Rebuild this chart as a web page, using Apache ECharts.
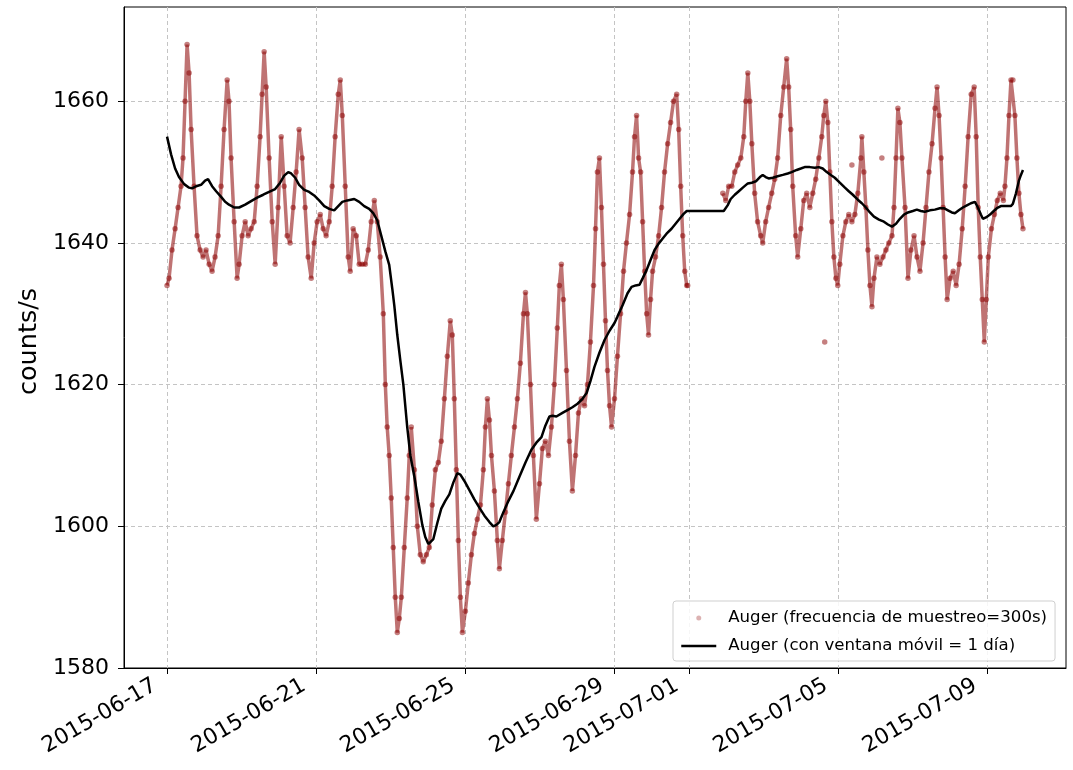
<!DOCTYPE html>
<html>
<head>
<meta charset="utf-8">
<script src="https://cdn.jsdelivr.net/npm/echarts@6/dist/echarts.min.js"></script>
<style>html,body{margin:0;padding:0;background:#fff}#c{width:1073px;height:770px}</style>
</head>
<body>
<div id="c"></div>
<script>
// Hours since 2015-06-17 00:00 (UTC) and counts/s values
const scatterHours = [0,1.3,3.2,5.2,7.1,9.0,10.3,11.6,12.9,14.2,15.5,17.4,19.3,21.3,23.2,25.1,27.1,29.0,30.9,32.9,34.8,36.7,38.7,39.9,41.2,43.2,45.1,46.4,48.3,50.3,52.2,54.1,56.1,58.0,59.9,61.2,62.5,63.8,65.7,67.7,69.6,71.5,73.5,75.4,77.3,79.2,81.2,83.1,85.0,87.0,88.9,90.8,92.8,94.7,96.6,98.6,100.5,102.4,104.4,106.3,108.2,110.2,111.5,112.8,114.7,116.6,117.9,119.8,121.8,123.7,125.6,127.6,129.5,131.4,133.4,135.3,137.2,139.2,140.5,141.7,143.0,144.3,145.6,146.9,148.2,149.5,150.8,152.7,154.6,155.9,157.2,159.2,161.1,163.0,164.9,166.9,168.8,170.7,172.7,174.6,176.5,178.5,180.4,182.3,183.6,184.9,186.2,187.5,188.8,190.1,192.0,193.9,195.9,197.8,199.7,201.7,203.6,204.9,206.2,207.5,208.8,210.7,212.6,213.9,215.8,217.8,219.7,221.6,223.6,225.5,227.4,229.4,230.7,231.9,233.9,235.8,237.7,239.7,241.6,243.5,245.5,247.4,249.3,251.2,252.5,253.8,255.1,257.1,259.0,260.9,262.9,264.8,266.7,268.7,270.6,272.5,274.5,275.8,277.0,278.3,279.6,280.9,282.2,283.5,284.8,286.1,288.0,289.9,291.9,293.8,295.7,297.7,299.6,300.9,302.2,303.5,304.8,306.1,307.4,308.7,309.9,311.2,312.5,314.4,316.4,318.3,320.2,322.2,324.1,326.0,328.0,329.3,330.6,331.9,333.2,334.5,335.1,357.7,359.6,361.5,363.5,365.4,367.3,369.3,371.2,372.5,373.8,375.1,376.4,378.2,380.1,382.1,383.4,385.3,387.2,389.2,391.1,393.0,395.0,396.9,398.8,400.1,401.4,402.7,404.6,405.9,407.9,409.8,411.7,413.7,415.6,417.5,419.5,421.4,422.7,424.0,425.3,426.6,427.9,429.2,430.5,431.7,433.0,435.0,436.9,438.8,440.8,442.7,444.6,446.6,447.2,448.5,449.8,451.1,452.4,453.7,455.0,456.9,458.8,460.8,462.7,464.6,466.6,467.9,469.2,470.4,471.7,473.0,475.0,476.9,478.8,480.8,482.7,484.6,486.6,488.5,490.4,492.4,494.3,495.6,496.9,498.2,499.5,500.8,502.1,504.0,506.0,507.9,509.8,511.8,513.7,515.6,517.6,519.5,520.8,522.1,523.4,524.7,526.0,527.3,528.6,530.6,532.5,534.4,536.3,538.3,539.3,540.6,541.9,543.2,544.4,545.7,547.0,548.3,549.6,550.9];
const scatterValues = [1634,1635,1639,1642,1645,1648,1652,1660,1668,1664,1656,1648,1641,1639,1638,1639,1637,1636,1638,1641,1648,1656,1663,1660,1652,1643,1635,1637,1641,1643,1641,1642,1643,1648,1655,1661,1667,1662,1652,1643,1637,1645,1655,1648,1641,1640,1645,1650,1656,1652,1645,1638,1635,1640,1643,1644,1642,1641,1643,1648,1655,1661,1663,1658,1648,1638,1636,1642,1641,1637,1637,1637,1639,1643,1646,1643,1638,1630,1620,1614,1610,1604,1597,1590,1585,1587,1590,1597,1604,1610,1614,1608,1600,1596,1595,1596,1597,1603,1608,1609,1612,1618,1624,1629,1627,1618,1608,1598,1590,1585,1588,1592,1596,1599,1601,1603,1608,1614,1618,1615,1610,1605,1598,1594,1598,1602,1606,1610,1614,1618,1623,1630,1633,1630,1620,1610,1601,1606,1611,1612,1610,1614,1620,1628,1634,1637,1632,1622,1612,1605,1610,1616,1618,1617,1620,1626,1634,1642,1650,1652,1645,1637,1629,1622,1617,1614,1618,1624,1630,1636,1640,1644,1650,1655,1658,1652,1650,1643,1636,1630,1627,1632,1636,1638,1641,1645,1650,1654,1657,1660,1661,1656,1648,1641,1636,1634,1634,1647,1646,1648,1648,1650,1651,1652,1655,1660,1664,1660,1654,1647,1643,1641,1640,1643,1645,1647,1649,1652,1658,1662,1666,1662,1656,1648,1641,1638,1642,1646,1647,1645,1647,1649,1652,1655,1658,1660,1657,1650,1643,1638,1635,1634,1637,1641,1643,1644,1643,1644,1647,1652,1655,1650,1645,1639,1634,1631,1635,1638,1637,1638,1639,1640,1641,1645,1652,1659,1657,1652,1645,1635,1639,1641,1638,1636,1640,1645,1650,1654,1659,1662,1658,1652,1645,1638,1632,1635,1636,1634,1637,1642,1648,1655,1661,1662,1655,1645,1638,1632,1626,1632,1638,1642,1644,1646,1647,1646,1648,1652,1658,1663,1663,1658,1652,1647,1644,1642];
const outlierHours = [423.3, 440.8, 460.1];
const outlierValues = [1626, 1651, 1652];

const meanHours = [0,2.6,5.2,7.7,11.0,14.2,16.1,18.7,21.9,24.5,26.4,29.0,31.6,34.8,37.4,39.9,43.2,46.4,50.3,54.1,58.0,61.9,65.7,69.6,72.8,75.4,78.0,79.9,82.5,85.0,88.3,91.5,94.7,97.9,101.2,104.4,107.6,110.2,112.8,116.0,120.5,123.7,126.9,130.1,132.7,135.3,137.9,140.5,143.0,145.0,146.3,148.2,150.1,152.1,154.6,156.6,159.2,161.7,164.3,166.2,168.2,169.4,171.4,174.0,176.5,179.1,181.7,184.3,186.8,188.8,191.4,194.6,197.8,201.1,204.3,207.5,210.0,212.0,213.9,216.5,219.1,223.0,226.8,230.7,234.5,237.7,241.0,243.5,246.1,248.1,250.6,254.5,257.7,260.9,264.2,267.4,270.0,272.5,275.1,278.3,281.6,284.8,288.0,289.9,293.2,296.4,299.0,301.6,304.1,306.1,308.7,311.2,313.8,316.4,318.9,321.5,324.7,327.3,329.9,332.5,334.5,358.3,360.8,362.8,365.4,368.0,370.6,373.8,376.4,379.0,381.6,383.4,385.3,387.2,389.9,393.0,396.3,399.5,402.0,405.3,407.9,410.4,413.7,416.9,419.5,422.0,424.6,427.2,429.8,433.0,436.3,438.8,441.4,444.6,447.2,449.8,452.4,455.0,458.2,461.4,464.0,466.6,469.2,471.7,474.3,476.9,480.0,482.6,485.2,487.7,491.0,494.2,497.4,500.0,502.6,505.1,507.1,509.6,512.2,514.8,517.4,520.0,521.9,523.8,525.1,527.1,529.7,531.6,534.1,536.7,539.9,543.1,544.4,546.4,548.3,549.6,550.9];
const meanValues = [1655,1652.5,1650.5,1649.3,1648.3,1647.8,1647.7,1648.0,1648.2,1648.8,1649.0,1648.0,1647.3,1646.5,1645.8,1645.4,1645.0,1645.0,1645.4,1645.9,1646.4,1646.8,1647.2,1647.6,1648.5,1649.5,1650.0,1649.8,1649.2,1648.2,1647.5,1647.2,1646.7,1646.0,1645.2,1644.8,1644.6,1645.2,1645.8,1646.0,1646.2,1645.8,1645.2,1644.8,1644.2,1643.2,1641.0,1638.8,1636.9,1633.5,1631.1,1627.0,1623.5,1620.0,1614.0,1610.0,1607.0,1603.5,1600.2,1598.5,1597.5,1597.4,1598.2,1600.5,1602.5,1603.6,1604.5,1606.2,1607.5,1607.3,1606.4,1605.1,1603.8,1602.6,1601.5,1600.6,1600.0,1600.2,1600.6,1602.0,1603.3,1605.0,1607.0,1609.0,1610.8,1611.8,1612.6,1614.2,1615.5,1615.6,1615.5,1616.0,1616.4,1616.8,1617.3,1618.0,1618.8,1620.5,1622.5,1624.5,1626.3,1627.6,1628.7,1629.6,1631.2,1632.9,1633.8,1634.0,1634.1,1635.0,1636.2,1637.6,1639.0,1639.9,1640.6,1641.3,1642.0,1642.7,1643.4,1644.1,1644.5,1644.5,1645.3,1646.2,1646.8,1647.3,1647.8,1648.4,1648.5,1648.7,1649.3,1649.6,1649.3,1649.1,1649.2,1649.4,1649.6,1649.8,1650.0,1650.3,1650.5,1650.7,1650.7,1650.6,1650.7,1650.5,1650.0,1649.6,1649.2,1648.5,1647.8,1647.3,1646.8,1646.1,1645.6,1645.0,1644.3,1643.7,1643.3,1643.0,1642.6,1642.3,1642.7,1643.4,1644.0,1644.3,1644.5,1644.7,1644.5,1644.4,1644.6,1644.7,1644.9,1644.9,1644.6,1644.3,1644.2,1644.6,1645.0,1645.3,1645.6,1645.8,1645.0,1644.0,1643.4,1643.6,1644.0,1644.4,1644.9,1645.2,1645.2,1645.2,1645.5,1647.0,1648.8,1649.6,1650.3];

const tickDates = ['2015-06-17','2015-06-21','2015-06-25','2015-06-29','2015-07-01','2015-07-05','2015-07-09'];
const yTicks = [1580,1600,1620,1640,1660];
const xMinHours = -27.7, xMaxHours = 578.6;
const yMin = 1580, yMax = 1673.3;

const scatterName = 'Auger (frecuencia de muestreo=300s)';
const meanName = 'Auger (con ventana móvil = 1 día)';

const H = 3600 * 1000;
const BASE = Date.UTC(2015, 5, 17);
const toT = h => BASE + h * H;
const parseDay = s => { const p = s.split('-').map(Number); return Date.UTC(p[0], p[1] - 1, p[2]); };

const scatterData = scatterHours.map((h, i) => [toT(h), scatterValues[i]])
  .concat(outlierHours.map((h, i) => [toT(h), outlierValues[i]]));
const trailData = [];
scatterHours.forEach((h, i) => {
  if (i > 0 && h - scatterHours[i - 1] > 10) trailData.push([toT((h + scatterHours[i - 1]) / 2), null]);
  trailData.push([toT(h), scatterValues[i]]);
});
const meanData = meanHours.map((h, i) => [toT(h), meanValues[i]]);
const xTicks = tickDates.map(parseDay);

const FONT = 'DejaVu Sans';
const gridLine = { show: true, lineStyle: { color: '#c4c4c4', type: [4, 3], width: 1 } };

const chart = echarts.init(document.getElementById('c'), null, { renderer: 'canvas' });
chart.setOption({
  animation: false,
  backgroundColor: '#fff',
  grid: { left: 124, right: 7, top: 7, bottom: 102, show: true, borderColor: '#000', borderWidth: 1, backgroundColor: 'transparent' },
  xAxis: {
    type: 'value',
    min: toT(xMinHours), max: toT(xMaxHours),
    axisLine: { show: true, lineStyle: { color: '#000', width: 1 } },
    axisTick: { show: true, length: 6, lineStyle: { color: '#000' }, customValues: xTicks },
    axisLabel: {
      customValues: xTicks, rotate: 30, margin: 9, hideOverlap: false,
      padding: [0, 14, 20, 0],
      fontFamily: FONT, fontSize: 22, color: '#000',
      formatter: v => new Date(v).toISOString().slice(0, 10)
    },
    splitLine: gridLine
  },
  yAxis: {
    type: 'value', min: yMin, max: yMax,
    name: 'counts/s', nameLocation: 'middle', nameGap: 82,
    nameTextStyle: { fontFamily: FONT, fontSize: 25.5, color: '#000', padding: [0, 8, 0, 0] },
    axisLine: { show: true, lineStyle: { color: '#000', width: 1 } },
    axisTick: { show: true, length: 6, lineStyle: { color: '#000' }, customValues: yTicks },
    axisLabel: { customValues: yTicks, margin: 15, fontFamily: FONT, fontSize: 22, color: '#000', formatter: v => String(v) },
    splitLine: gridLine
  },
  legend: {
    orient: 'vertical', left: 673, top: 601,
    padding: [8, 8, 6, 7], itemGap: 10, itemWidth: 35, itemHeight: 5,
    backgroundColor: 'rgba(255,255,255,0.85)', borderColor: '#cfcfcf', borderWidth: 1, borderRadius: 3,
    textStyle: { fontFamily: FONT, fontSize: 16.6, color: '#000', lineHeight: 18, padding: [0, 0, 0, 7] },
    data: [
      { name: scatterName, icon: 'circle', itemStyle: { color: '#8b0000', opacity: 0.3 } },
      { name: meanName, itemStyle: { opacity: 0 }, lineStyle: { color: '#000', width: 2.5 } }
    ]
  },
  series: [
    {
      name: 'trail', type: 'line', data: trailData, showSymbol: false, symbol: 'none', connectNulls: false,
      lineStyle: { color: '#8b0000', width: 3.5, opacity: 0.55 }, silent: true, z: 1
    },
    {
      name: scatterName, type: 'scatter', data: scatterData, symbolSize: 5.5,
      itemStyle: { color: '#8b0000', opacity: 0.5 }, z: 2
    },
    {
      name: meanName, type: 'line', data: meanData, showSymbol: false, symbol: 'none', smooth: false,
      lineStyle: { color: '#000', width: 2.5 }, z: 3
    }
  ]
});
</script>
</body>
</html>
